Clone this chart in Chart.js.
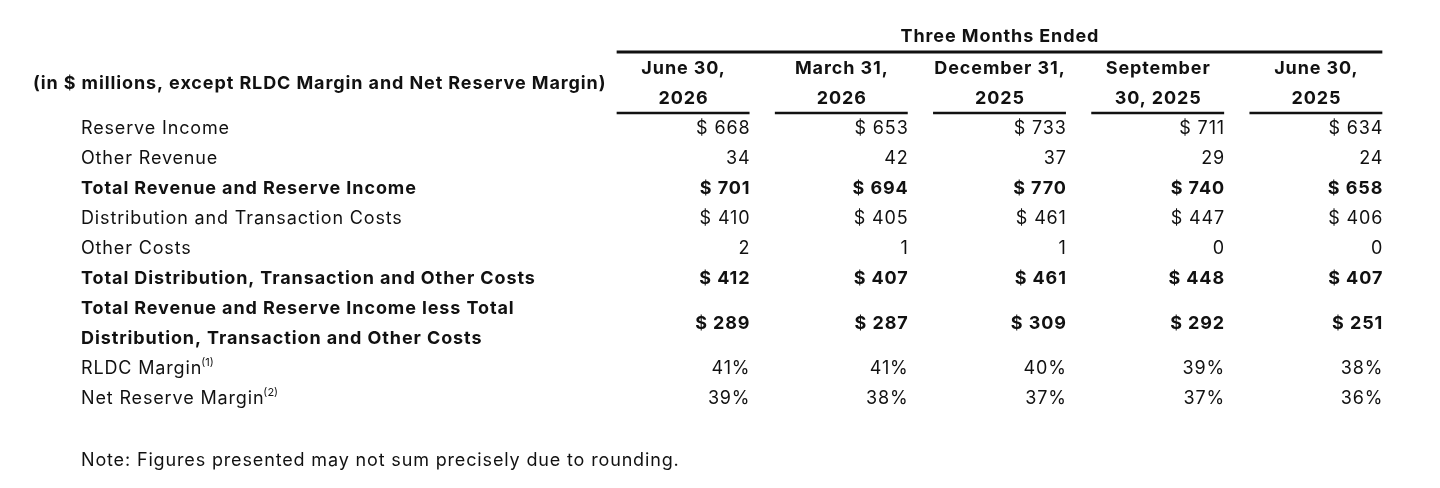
<!DOCTYPE html>
<html>
<head>
<meta charset="utf-8">
<script src="https://cdn.jsdelivr.net/npm/chart.js@4"></script>
<style>
  html, body { margin: 0; padding: 0; background: #ffffff; }
  #wrap { width: 1440px; height: 488px; position: relative; }
</style>
</head>
<body>
<div id="wrap"><canvas id="tableChart"></canvas></div>
<script>
// Column headers (two lines each)
const periodLine1 = ['June 30,', 'March 31,', 'December 31,', 'September', 'June 30,'];
const periodLine2 = ['2026', '2026', '2025', '30, 2025', '2025'];

// Row labels, split in lines where the source wraps
const rowLabels = [
    ['Reserve Income'],
    ['Other Revenue'],
    ['Total Revenue and Reserve Income'],
    ['Distribution and Transaction Costs'],
    ['Other Costs'],
    ['Total Distribution, Transaction and Other Costs'],
    ['Total Revenue and Reserve Income less Total', 'Distribution, Transaction and Other Costs'],
    ['RLDC Margin'],
    ['Net Reserve Margin']
];
const rowNotes = ['', '', '', '', '', '', '', '(1)', '(2)'];
const rowBold = [false, false, true, false, false, true, true, false, false];
const rowUnit = ['$', '', '$', '$', '', '$', '$', '%', '%'];

// Values per row (in $ millions, margins in %)
const reserveIncome = [668, 653, 733, 711, 634];
const otherRevenue = [34, 42, 37, 29, 24];
const totalRevenue = [701, 694, 770, 740, 658];
const distributionCosts = [410, 405, 461, 447, 406];
const otherCosts = [2, 1, 1, 0, 0];
const totalCosts = [412, 407, 461, 448, 407];
const revenueLessCosts = [289, 287, 309, 292, 251];
const rldcMargin = [41, 41, 40, 39, 38];
const netReserveMargin = [39, 38, 37, 37, 36];

const rowValues = [reserveIncome, otherRevenue, totalRevenue, distributionCosts,
    otherCosts, totalCosts, revenueLessCosts, rldcMargin, netReserveMargin];

const titleText = 'Three Months Ended';
const headerLabel = '(in $ millions, except RLDC Margin and Net Reserve Margin)';
const noteText = 'Note: Figures presented may not sum precisely due to rounding.';

const FONT = 'Inter';
const INK = '#111111';
const CELL_HALF = 0.42;
const TEXT_DY = 1.5;   // text sits a touch below the row centre

// Row positions in row units: a wrapped label takes one extra line
const rowPos = [];
let cursor = 0;
rowLabels.forEach(lines => {
    const h = lines.length;
    rowPos.push(cursor + (h - 1) / 2);
    cursor += h;
});

function formatValue(v, unit) {
    if (unit === '$') return '$ ' + v;
    if (unit === '%') return v + '%';
    return String(v);
}

const datasets = rowValues.map((vals, r) => ({
    label: rowLabels[r].join(' '),
    data: vals.map((v, c) => ({ x: c, y: rowPos[r], text: formatValue(v, rowUnit[r]) })),
    pointRadius: 0,
    bold: rowBold[r]
}));

// letter spacing widens Inter towards the source's wider face
function setFont(ctx, bold, size) {
    ctx.font = `${bold ? 'bold ' : ''}${size || 18}px ${FONT}`;
    const sp = size ? 0 : (bold ? 0.9 : 0.85);
    ctx.letterSpacing = sp + 'px';
    return sp;
}

// Draws the table text and rules from the scales
const tablePlugin = {
    id: 'tableText',
    afterDatasetsDraw(chart) {
        const ctx = chart.ctx;
        const xs = chart.scales.x;
        const ys = chart.scales.y;
        const yText = v => ys.getPixelForValue(v) + TEXT_DY;
        ctx.save();
        ctx.fillStyle = INK;
        ctx.strokeStyle = INK;
        ctx.textBaseline = 'middle';

        // title and top rule
        let sp = setFont(ctx, true);
        ctx.textAlign = 'center';
        ctx.fillText(titleText, xs.getPixelForValue(2) + sp / 2, yText(-3.07));
        ctx.lineWidth = 3;
        ctx.beginPath();
        ctx.moveTo(xs.getPixelForValue(-CELL_HALF), ys.getPixelForValue(-2.5));
        ctx.lineTo(xs.getPixelForValue(4 + CELL_HALF), ys.getPixelForValue(-2.5));
        ctx.stroke();

        // column headers with their underlines
        periodLine1.forEach((p, c) => {
            const cx = xs.getPixelForValue(c) + sp / 2;
            ctx.fillText(p, cx, yText(-2));
            ctx.fillText(periodLine2[c], cx, yText(-1));
            ctx.lineWidth = 2.5;
            ctx.beginPath();
            ctx.moveTo(xs.getPixelForValue(c - CELL_HALF), ys.getPixelForValue(-0.47));
            ctx.lineTo(xs.getPixelForValue(c + CELL_HALF), ys.getPixelForValue(-0.47));
            ctx.stroke();
        });

        // left header
        ctx.textAlign = 'left';
        ctx.fillText(headerLabel, 33, yText(-1.5));

        // row labels
        rowLabels.forEach((lines, r) => {
            lines.forEach((line, k) => {
                const y = yText(rowPos[r] - (lines.length - 1) / 2 + k);
                setFont(ctx, rowBold[r]);
                ctx.textAlign = 'left';
                ctx.fillText(line, 81, y);
                if (rowNotes[r]) {
                    const w = ctx.measureText(line).width;
                    setFont(ctx, false, 11);
                    ctx.fillText(rowNotes[r], 81 + w - 1, y - 6);
                }
            });
        });

        // cell values, right aligned in each column
        chart.data.datasets.forEach((ds, i) => {
            const meta = chart.getDatasetMeta(i);
            sp = setFont(ctx, ds.bold);
            ctx.textAlign = 'right';
            meta.data.forEach((pt, j) => {
                const d = ds.data[j];
                const right = xs.getPixelForValue(d.x + CELL_HALF) + sp;
                ctx.fillText(d.text, right, pt.y + TEXT_DY);
            });
        });

        // footnote
        setFont(ctx, false);
        ctx.textAlign = 'left';
        ctx.fillText(noteText, 81, yText(11.07));
        ctx.restore();
    }
};

new Chart(document.getElementById('tableChart'), {
    type: 'scatter',
    data: { datasets: datasets },
    options: {
        responsive: true,
        maintainAspectRatio: false,
        animation: false,
        events: [],
        layout: {
            padding: { left: 604, right: 45, top: 37, bottom: 31 }
        },
        plugins: {
            legend: { display: false },
            tooltip: { enabled: false }
        },
        scales: {
            x: { type: 'linear', min: -0.5, max: 4.5, display: false },
            y: { type: 'linear', min: -3, max: 11, reverse: true, display: false }
        }
    },
    plugins: [tablePlugin]
});
</script>
</body>
</html>
